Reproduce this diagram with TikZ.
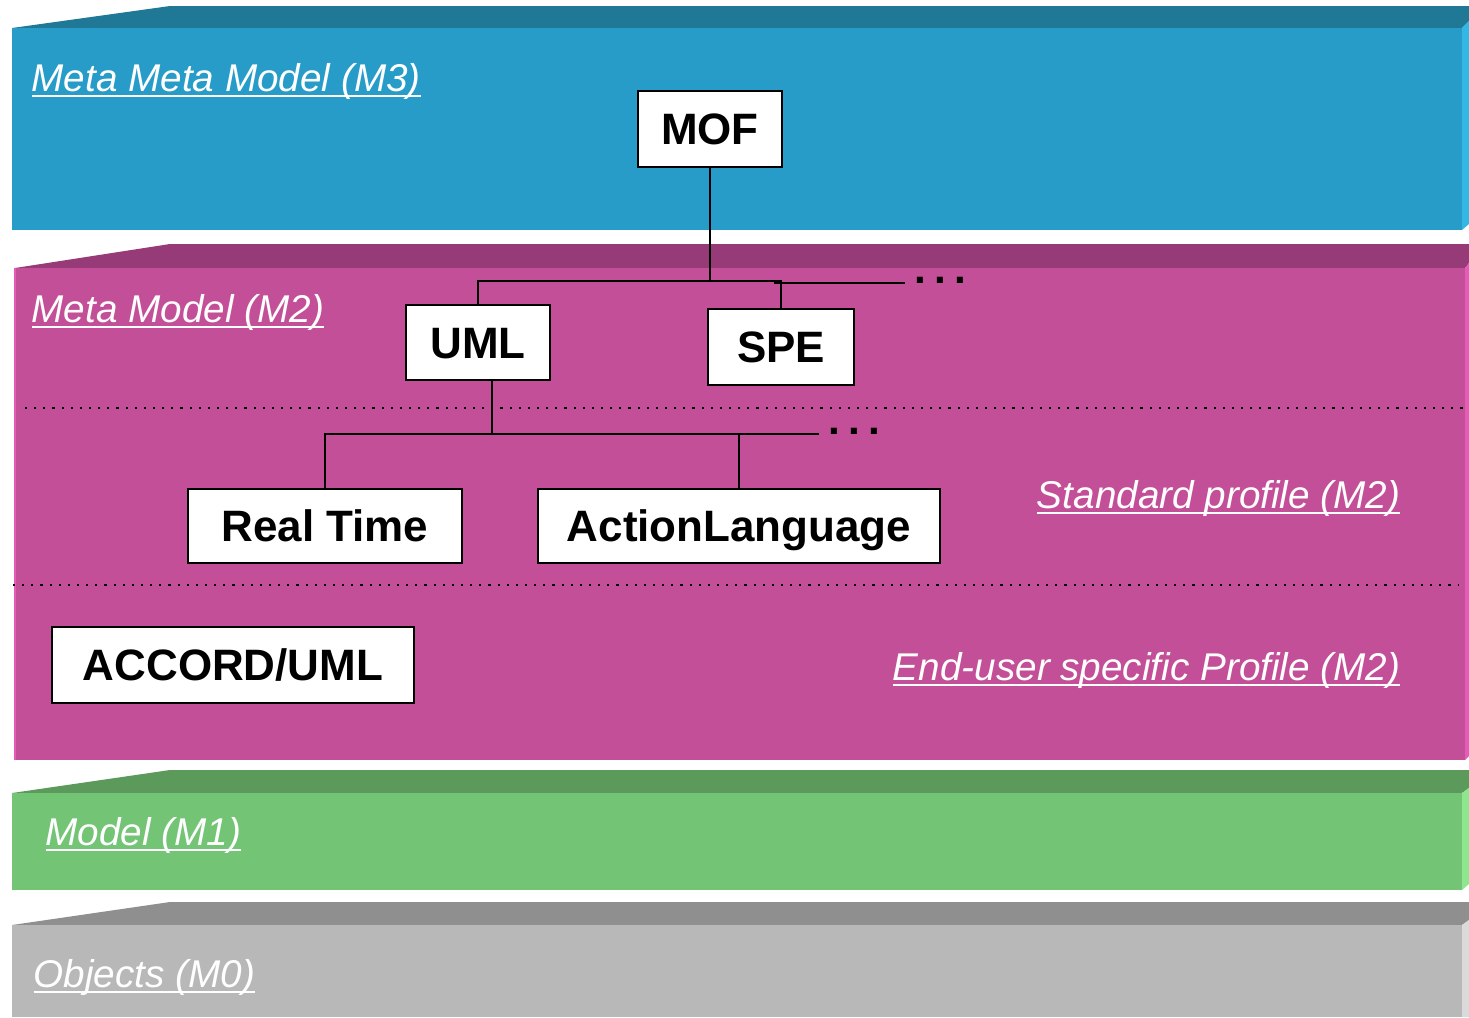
\documentclass[tikz,border=0pt]{standalone}
\usepackage{fontspec}
\setmainfont{Liberation Sans}
\usetikzlibrary{positioning}

\definecolor{mthreetop}{HTML}{1F7896}
\definecolor{mthreefront}{HTML}{279CC8}
\definecolor{mthreeside}{HTML}{33B8E6}
\definecolor{mtwotop}{HTML}{963B77}
\definecolor{mtwofront}{HTML}{C34F98}
\definecolor{mtwoside}{HTML}{E65BB8}
\definecolor{monetop}{HTML}{5C9A5C}
\definecolor{monefront}{HTML}{74C476}
\definecolor{moneside}{HTML}{8EE68E}
\definecolor{mzerotop}{HTML}{8F8F8F}
\definecolor{mzerofront}{HTML}{B8B8B8}
\definecolor{mzeroside}{HTML}{DADADA}

\newcommand\ulabel[1]{\underline{\smash{#1}}}
\newcommand\moredots{.\hspace{0.08cm}.\hspace{0.08cm}.}

\begin{document}
\begin{tikzpicture}[x=0.01cm,y=-0.01cm,
  box/.style={draw=black, semithick, fill=white, inner sep=0pt,
    text height=9pt, text depth=0pt,
    font=\fontsize{12.5}{14}\selectfont\bfseries},
  level/.style={text=white, inner sep=0pt,
    font=\fontsize{11}{13}\selectfont\itshape},
  link/.style={draw=black, semithick},
  sep/.style={black, dotted, semithick},
  more/.style={inner sep=0pt, font=\fontsize{12}{14}\selectfont\bfseries}]
\useasboundingbox (0,0) rectangle (1469,1017);
% M3 layer:
\fill[mthreetop] (12,28) -- (170,6) -- (1469,6) -- (1469,21) -- (1462,28) -- cycle;
\fill[mthreefront] (12,28) rectangle (1462,230);
\fill[mthreeside] (1462,28) -- (1469,21) -- (1469,224) -- (1462,230) -- cycle;
% M2 layer:
\fill[mtwotop] (15,268) -- (170,244) -- (1469,244) -- (1469,263) -- (1465,268) -- cycle;
\fill[mtwofront] (15,268) rectangle (1465,760);
\fill[mtwoside] (1465,268) -- (1469,263) -- (1469,756) -- (1465,760) -- cycle;
\fill[mtwoside] (14,268) rectangle (16,760);
% M1 layer:
\fill[monetop] (12,793) -- (170,770) -- (1469,770) -- (1469,788) -- (1462,793) -- cycle;
\fill[monefront] (12,793) rectangle (1462,890);
\fill[moneside] (1462,793) -- (1469,788) -- (1469,884) -- (1462,890) -- cycle;
% M0 layer:
\fill[mzerotop] (12,925) -- (170,902) -- (1469,902) -- (1469,920) -- (1462,925) -- cycle;
\fill[mzerofront] (12,925) rectangle (1462,1017);
\fill[mzeroside] (1462,925) -- (1469,920) -- (1469,1017) -- (1462,1017) -- cycle;

% profile separators
\draw[sep] (25,408) -- (1469,408);
\draw[sep] (13,585) -- (1459,585);

% level names
\node[level, anchor=base west] (lthree) at (31,91) {\ulabel{Meta Meta Model (M3)}};
\node[level, anchor=base west] (ltwo) at (31,322) {\ulabel{Meta Model (M2)}};
\node[level, anchor=base east] (lstd) at (1401,508) {\ulabel{Standard profile (M2)}};
\node[level, anchor=base east] (lend) at (1401,680) {\ulabel{End-user specific Profile (M2)}};
\node[level, anchor=base west] (lone) at (45,845) {\ulabel{Model (M1)}};
\node[level, anchor=base west] (lzero) at (33,987) {\ulabel{Objects (M0)}};

% metamodels
\node[box, minimum width=1.44cm, minimum height=0.76cm] (mof) at (710,129) {MOF};
\node[box, minimum width=1.44cm, minimum height=0.75cm] (uml) at (478,342.5) {UML};
\node[box, minimum width=1.46cm, minimum height=0.76cm] (spe) at (781,347) {SPE};
\node[box, minimum width=2.74cm, minimum height=0.74cm] (rt) at (325,526) {Real Time};
\node[box, minimum width=4.02cm, minimum height=0.74cm] (al) at (739,526) {ActionLanguage};
\node[box, minimum width=3.62cm, minimum height=0.76cm] (accord) at (233,665) {ACCORD/UML};

% MOF tree
\coordinate (mofj) at (710,281);
\coordinate (mofend) at (905,283);
\draw[link] (mof.south) -- (mofj);
\draw[link] (uml.north) |- (mofj) -| (spe.north);
\draw[link] (774,283) -- (mofend);
\node[more, anchor=west] (mofmore) at ([xshift=0.09cm,yshift=0.03cm]mofend) {\moredots};
% UML profiles
\coordinate (umlb) at (492,380);
\coordinate (umlj) at (492,434);
\coordinate (umlend) at (819,434);
\draw[link] (umlb) -- (umlj);
\draw[link] (rt.north) |- (umlend);
\draw[link] (al.north) -- (al.north |- umlj);
\node[more, anchor=west] (umlmore) at ([xshift=0.09cm,yshift=0.03cm]umlend) {\moredots};
\end{tikzpicture}
\end{document}
